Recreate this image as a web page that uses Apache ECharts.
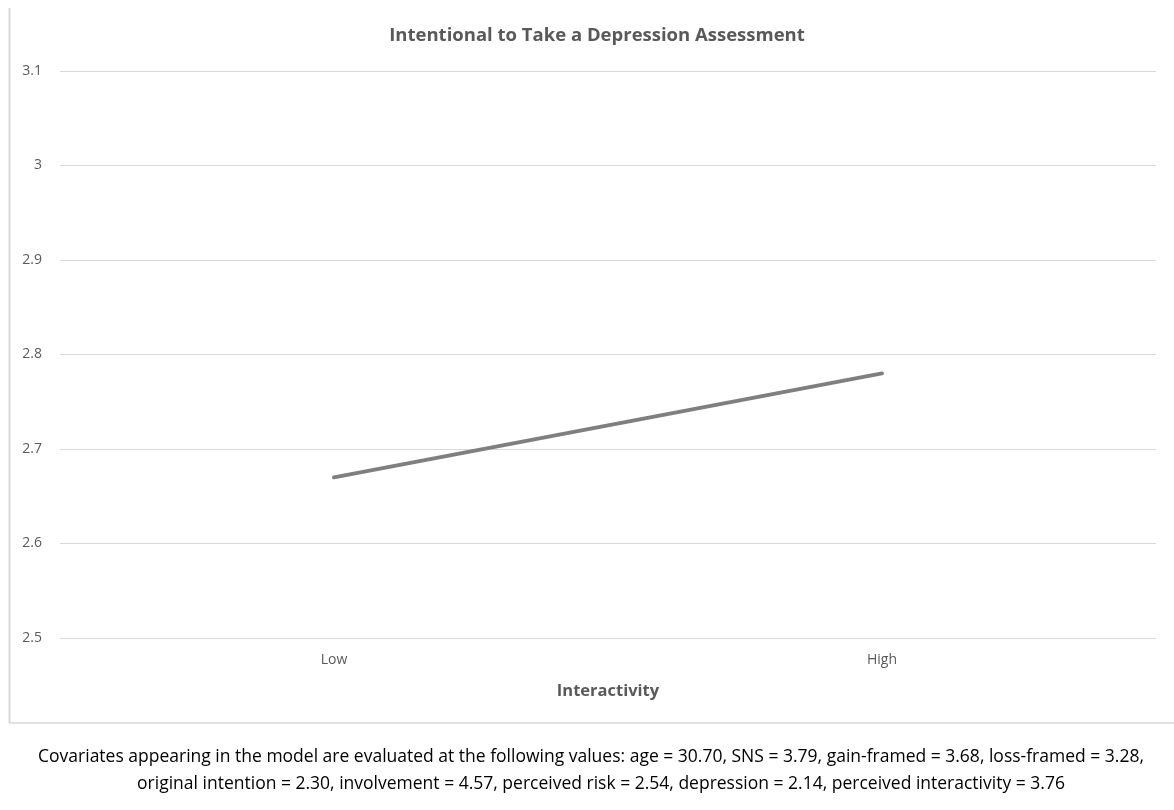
<!DOCTYPE html>
<html><head><meta charset="utf-8">
<script src="https://cdn.jsdelivr.net/npm/echarts@6/dist/echarts.min.js"></script>
<style>html,body{margin:0;padding:0;background:#fff}#c{width:1174px;height:810px}</style>
</head><body><div id="c"></div>
<script>
const categories = ['Low', 'High'];
const intentionValues = [2.67, 2.78];
const yTicks = { min: 2.5, max: 3.1, interval: 0.1 };
const titleText = 'Intentional to Take a Depression Assessment';
const xAxisTitle = 'Interactivity';
const noteLines = [
  'Covariates appearing in the model are evaluated at the following values: age = 30.70, SNS = 3.79, gain-framed = 3.68, loss-framed = 3.28,',
  'original intention = 2.30, involvement = 4.57, perceived risk = 2.54, depression = 2.14, perceived interactivity = 3.76'
];
const font = '"Open Sans", "Noto Sans", sans-serif';
const chart = echarts.init(document.getElementById('c'));
chart.setOption({
  animation: false,
  title: { text: titleText, left: 592, top: 21, textAlign: 'center',
    textStyle: { fontFamily: font, fontSize: 18.5, fontWeight: 'bold', color: '#595959' } },
  grid: { left: 60, right: 18, top: 71, bottom: 172, containLabel: false },
  xAxis: { type: 'category', data: categories, boundaryGap: true,
    name: xAxisTitle, nameLocation: 'middle', nameGap: 45,
    nameTextStyle: { fontFamily: font, fontSize: 16.5, fontWeight: 'bold', color: '#595959' },
    axisLine: { show: false }, axisTick: { show: false },
    axisLabel: { fontFamily: font, fontSize: 14, color: '#595959', margin: 15 } },
  yAxis: { type: 'value', min: yTicks.min, max: yTicks.max, interval: yTicks.interval,
    axisLine: { show: false }, axisTick: { show: false },
    axisLabel: { fontFamily: font, fontSize: 14, color: '#595959', margin: 18,
      formatter: v => String(+v.toFixed(1)) },
    splitLine: { lineStyle: { color: '#d9d9d9', width: 1 } } },
  series: [{ type: 'line', data: intentionValues, symbol: 'none',
    lineStyle: { color: '#7f7f7f', width: 4, cap: 'round' } }],
  graphic: [
    { type: 'line', shape: { x1: 9.5, y1: 8, x2: 9.5, y2: 723 }, style: { stroke: '#d9d9d9', lineWidth: 2 } },
    { type: 'line', shape: { x1: 9, y1: 723, x2: 1174, y2: 723 }, style: { stroke: '#d9d9d9', lineWidth: 1.5 } },
    { type: 'text', x: 591, y: 757, style: { text: noteLines[0], fontFamily: font, fontSize: 17.5, fill: '#000', textAlign: 'center', textVerticalAlign: 'middle' } },
    { type: 'text', x: 601, y: 784, style: { text: noteLines[1], fontFamily: font, fontSize: 17.5, fill: '#000', textAlign: 'center', textVerticalAlign: 'middle' } }
  ]
});
</script></body></html>
